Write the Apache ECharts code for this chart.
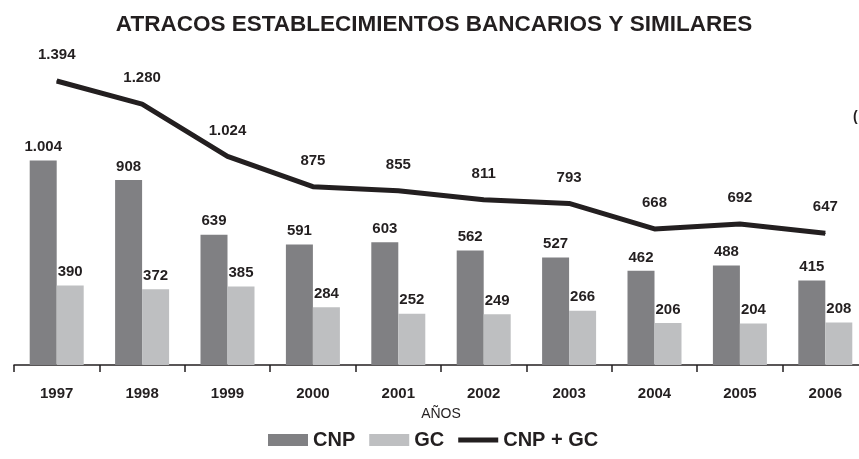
<!DOCTYPE html>
<html>
<head>
<meta charset="utf-8">
<script src="https://cdn.jsdelivr.net/npm/echarts@6/dist/echarts.min.js"></script>
<style>
  html, body { margin: 0; padding: 0; background: #fff; overflow: hidden; }
  #chart { width: 868px; height: 459px; }
</style>
</head>
<body>
<div id="chart"></div>
<script>
// data
var years = ['1997', '1998', '1999', '2000', '2001', '2002', '2003', '2004', '2005', '2006'];
var cnp = [1004, 908, 639, 591, 603, 562, 527, 462, 488, 415];
var gc = [390, 372, 385, 284, 252, 249, 266, 206, 204, 208];
var total = [1394, 1280, 1024, 875, 855, 811, 793, 668, 692, 647];

// spanish thousands separator
function fmt(p) {
  return String(p.value).replace(/\B(?=(\d{3})+(?!\d))/g, '.');
}

// the plot runs a little past the right edge of the 859px window
var chart = echarts.init(document.getElementById('chart'));
var font = 'Liberation Sans, Arial, sans-serif';
var ink = '#231f20';

var option = {
  animation: false,
  title: {
    text: 'ATRACOS ESTABLECIMIENTOS BANCARIOS Y SIMILARES',
    left: 'center',
    top: 8,
    textStyle: { fontFamily: font, fontSize: 22.5, fontWeight: 'bold', color: ink }
  },
  graphic: [{
    type: 'text', left: 853, top: 110,
    style: { text: '(', fontFamily: font, fontSize: 14, fontWeight: 'bold', fill: ink }
  }],
  legend: {
    bottom: 4,
    left: 263,
    itemWidth: 40,
    itemHeight: 12,
    itemGap: 14,
    textStyle: { fontFamily: font, fontSize: 20, fontWeight: 'bold', color: ink },
    data: [
      { name: 'CNP', icon: 'rect' },
      { name: 'GC', icon: 'rect' },
      { name: 'CNP + GC', icon: 'path://M0,0 L40,0 L40,5 L0,5 Z' }
    ]
  },
  grid: { left: 14, right: 0, top: 39, bottom: 94 },
  xAxis: {
    type: 'category',
    data: years,
    name: 'AÑOS',
    nameLocation: 'middle',
    nameGap: 42,
    nameTextStyle: { fontFamily: font, fontSize: 14, color: ink },
    axisLine: { lineStyle: { color: ink, width: 1.5 } },
    axisTick: { show: true, length: 7, lineStyle: { color: ink, width: 1.5 } },
    axisLabel: { margin: 21, fontFamily: font, fontSize: 15, fontWeight: 'bold', color: ink }
  },
  yAxis: {
    type: 'value',
    min: 0,
    max: 1600,
    show: false,
    splitLine: { show: false }
  },
  series: [
    {
      name: 'CNP',
      type: 'bar',
      data: cnp,
      barWidth: 27,
      barGap: '0%',
      itemStyle: { color: '#808083' },
      label: {
        show: true, position: 'top', distance: 6, formatter: fmt,
        fontFamily: font, fontSize: 15, fontWeight: 'bold', color: ink
      }
    },
    {
      name: 'GC',
      type: 'bar',
      data: gc,
      barWidth: 27,
      itemStyle: { color: '#bebfc1' },
      label: {
        show: true, position: 'top', distance: 6, formatter: fmt,
        fontFamily: font, fontSize: 15, fontWeight: 'bold', color: ink
      }
    },
    {
      name: 'CNP + GC',
      type: 'line',
      data: total,
      symbol: 'circle',
      symbolSize: 1,
      showSymbol: true,
      itemStyle: { color: ink },
      lineStyle: { color: ink, width: 5 },
      label: {
        show: true, position: 'top', distance: 18, formatter: fmt,
        fontFamily: font, fontSize: 15, fontWeight: 'bold', color: ink
      }
    }
  ]
};

chart.setOption(option);
</script>
</body>
</html>
